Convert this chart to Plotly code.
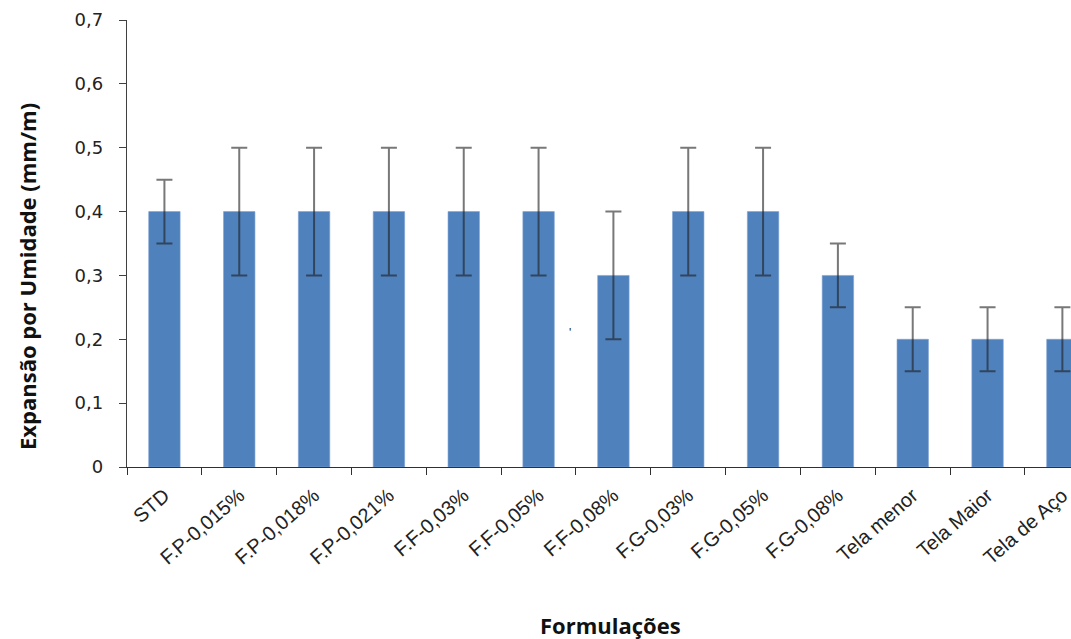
import plotly.graph_objects as go

categories = ["STD", "F.P-0,015%", "F.P-0,018%", "F.P-0,021%", "F.F-0,03%", "F.F-0,05%",
              "F.F-0,08%", "F.G-0,03%", "F.G-0,05%", "F.G-0,08%", "Tela menor", "Tela Maior", "Tela de Aço"]
values = [0.4, 0.4, 0.4, 0.4, 0.4, 0.4, 0.3, 0.4, 0.4, 0.3, 0.2, 0.2, 0.2]
errors = [0.05, 0.1, 0.1, 0.1, 0.1, 0.1, 0.1, 0.1, 0.1, 0.05, 0.05, 0.05, 0.05]
y_ticks = [0, 0.1, 0.2, 0.3, 0.4, 0.5, 0.6, 0.7]
y_tick_labels = ["0", "0,1", "0,2", "0,3", "0,4", "0,5", "0,6", "0,7"]

fig = go.Figure()
fig.add_trace(go.Bar(
    x=list(range(len(categories))), y=values, width=0.42,
    marker=dict(color="#4F81BD", line=dict(color="#7FA3D3", width=0.6)),
    error_y=dict(type="data", array=errors, visible=True,
                 color="rgba(30,30,30,0.6)", thickness=2, width=8),
    showlegend=False, cliponaxis=False,
))

fig.update_layout(
    width=1071, height=639,
    margin=dict(l=127, r=0, t=20, b=172),
    plot_bgcolor="white", paper_bgcolor="white",
    xaxis=dict(
        range=[-0.5, 12.115],
        tickmode="array", tickvals=list(range(len(categories))), ticktext=categories,
        tickangle=-41, ticks="", ticklabelstandoff=8, ticklabeloverflow="allow",
        tickfont=dict(family="Liberation Sans, Arial", size=20, color="#222"),
        showline=True, linecolor="#303030", linewidth=1.3,
        showgrid=False, zeroline=False, automargin=False,
    ),
    yaxis=dict(
        range=[0, 0.7],
        tickmode="array", tickvals=y_ticks, ticktext=y_tick_labels,
        ticks="outside", ticklen=7, tickcolor="#404040", tickwidth=1.3,
        ticklabelstandoff=12,
        tickfont=dict(family="DejaVu Sans, Verdana", size=18, color="#222"),
        showline=True, linecolor="#404040", linewidth=1.3,
        showgrid=False, zeroline=False, automargin=False,
    ),
    font=dict(family="Liberation Sans, Arial"),
)

# category boundary tick marks on the x axis
fig.update_xaxes(minor=dict(tickmode="array", tickvals=[i - 0.5 for i in range(len(categories) + 1)],
                            ticks="outside", ticklen=7, tickcolor="#303030", tickwidth=1.3))

fig.add_annotation(text="<b>Expansão por Umidade (mm/m)</b>", xref="paper", yref="paper",
                   x=(27 - 127) / 944, y=(467 - 277) / 447, textangle=-90, showarrow=False,
                   font=dict(family="Open Sans", size=22, color="#111"), xanchor="center", yanchor="middle")
fig.add_annotation(text="<b>Formulações</b>", xref="paper", yref="paper",
                   x=(610 - 127) / 944, y=(467 - 625) / 447, showarrow=False,
                   font=dict(family="Open Sans", size=22, color="#111"), xanchor="center", yanchor="middle")
fig.add_annotation(text="'", x=5.42, y=0.21, showarrow=False,
                   font=dict(family="Liberation Sans", size=12, color="#222"))

fig.write_html("out.html", config={"displayModeBar": False},
               post_script="document.body.style.margin='0';document.body.style.overflow='hidden';")
